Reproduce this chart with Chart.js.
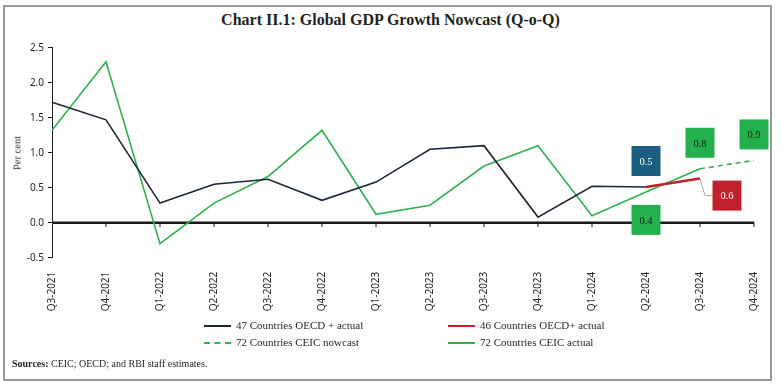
<!DOCTYPE html>
<html>
<head>
<meta charset="utf-8">
<script src="https://cdn.jsdelivr.net/npm/chart.js@4.4.1/dist/chart.umd.min.js"></script>
<style>
body { margin: 0; width: 781px; height: 384px; background: #fff; overflow: hidden; font-family: "Liberation Serif", serif; color: #231f20; }
#frame { position: absolute; left: 3px; top: 5px; width: 765px; height: 372px; border: 2px solid #9a9a9a; }
#wrap { position: absolute; left: 0; top: 0; width: 781px; height: 384px; }
#title { position: absolute; left: 0; top: 11px; width: 781px; text-align: center; font-weight: bold; font-size: 16px; }
#ytitle { position: absolute; left: 17px; top: 153px; font-size: 10.5px; color: #333; transform: translate(-50%, -50%) rotate(-90deg); white-space: nowrap; }
#legend .item { position: absolute; font-size: 11px; white-space: nowrap; line-height: 14px; }
#legend .swatch { display: inline-block; width: 27px; height: 0; vertical-align: middle; margin-right: 5px; border-top-width: 2px; }
#source { position: absolute; left: 12px; top: 358px; font-size: 10px; }
</style>
</head>
<body>
<div id="frame"></div>
<div id="title">Chart II.1: Global GDP Growth Nowcast (Q-o-Q)</div>
<div id="wrap"><canvas id="chartNowcast" width="781" height="384"></canvas></div>
<div id="ytitle">Per cent</div>
<div id="legend"></div>
<div id="source"><b>Sources:</b> CEIC; OECD; and RBI staff estimates.</div>
<script>
var quarters = ["Q3-2021", "Q4-2021", "Q1-2022", "Q2-2022", "Q3-2022", "Q4-2022", "Q1-2023",
	"Q2-2023", "Q3-2023", "Q4-2023", "Q1-2024", "Q2-2024", "Q3-2024", "Q4-2024"];
var oecd47Actual = [1.72, 1.47, 0.28, 0.55, 0.62, 0.32, 0.58, 1.05, 1.10, 0.08, 0.52, 0.51, null, null];
var oecd46Actual = [null, null, null, null, null, null, null, null, null, null, null, 0.51, 0.63, null];
var ceic72Nowcast = [null, null, null, null, null, null, null, null, null, null, null, null, 0.77, 0.89];
var ceic72Actual = [1.32, 2.30, -0.30, 0.28, 0.66, 1.32, 0.12, 0.25, 0.81, 1.10, 0.10, 0.44, 0.77, null];
var yTicks = [-0.5, 0.0, 0.5, 1.0, 1.5, 2.0, 2.5];

var navy = "#1c2838", red = "#c3202e", green = "#2fb34a";
var boxGreen = "#22b14c", boxBlue = "#1b5e80", boxRed = "#c1202d";

// value boxes: dataset index, point index, offset of box centre from the point
var boxes = [
	{ ds: 0, i: 11, dx: 0,  dy: -26, bg: boxBlue,  fg: "#fff" },
	{ ds: 3, i: 11, dx: 0,  dy: 28,  bg: boxGreen, fg: "#1a1a1a" },
	{ ds: 2, i: 12, dx: 0,  dy: -26, bg: boxGreen, fg: "#1a1a1a" },
	{ ds: 2, i: 13, dx: 0,  dy: -26, bg: boxGreen, fg: "#1a1a1a" },
	{ ds: 1, i: 12, dx: 27, dy: 17,  bg: boxRed,   fg: "#fff", leader: true }
];

var zeroLine = {
	id: "zeroLine",
	beforeDatasetsDraw: function(chart) {
		var ctx = chart.ctx, x = chart.scales.x, y = chart.scales.y;
		var y0 = y.getPixelForValue(0);
		ctx.save();
		ctx.strokeStyle = "#1a1a1a";
		ctx.lineWidth = 2.5;
		ctx.beginPath();
		ctx.moveTo(chart.chartArea.left, y0);
		ctx.lineTo(chart.chartArea.right, y0);
		ctx.stroke();
		ctx.lineWidth = 1;
		for (var k = 1; k < quarters.length; k++) {
			var px = x.getPixelForValue(k);
			ctx.beginPath();
			ctx.moveTo(px, y0);
			ctx.lineTo(px, y0 + 4.5);
			ctx.stroke();
		}
		ctx.restore();
	}
};

var valueBoxes = {
	id: "valueBoxes",
	afterDatasetsDraw: function(chart) {
		var ctx = chart.ctx;
		ctx.save();
		boxes.forEach(function(b) {
			var pt = chart.getDatasetMeta(b.ds).data[b.i];
			var v = chart.data.datasets[b.ds].data[b.i];
			var cx = pt.x + b.dx, cy = pt.y + b.dy;
			if (b.leader) {
				ctx.strokeStyle = "#a6a6a6";
				ctx.lineWidth = 1;
				ctx.beginPath();
				ctx.moveTo(pt.x, pt.y);
				ctx.lineTo(pt.x + 5, cy);
				ctx.lineTo(cx - 14, cy);
				ctx.stroke();
			}
			ctx.fillStyle = b.bg;
			ctx.fillRect(cx - 14.5, cy - 15, 29, 30);
			ctx.fillStyle = b.fg;
			ctx.font = "10.5px 'Liberation Serif'";
			ctx.textAlign = "center";
			ctx.textBaseline = "middle";
			ctx.fillText(v.toFixed(1), cx, cy + 1);
		});
		ctx.restore();
	}
};

var chart = new Chart(document.getElementById("chartNowcast"), {
	type: "line",
	data: {
		labels: quarters,
		datasets: [
			{ label: "47 Countries OECD + actual", data: oecd47Actual, borderColor: navy, borderWidth: 1.6 },
			{ label: "46 Countries OECD+ actual", data: oecd46Actual, borderColor: red, borderWidth: 2.5 },
			{ label: "72 Countries CEIC nowcast", data: ceic72Nowcast, borderColor: green, borderWidth: 1.6, borderDash: [5, 4] },
			{ label: "72 Countries CEIC actual", data: ceic72Actual, borderColor: green, borderWidth: 1.6 }
		]
	},
	plugins: [zeroLine, valueBoxes],
	options: {
		responsive: false,
		animation: false,
		spanGaps: false,
		elements: { point: { radius: 0 }, line: { tension: 0 } },
		layout: { padding: { left: 0, right: 27, top: 47.7, bottom: 61.3 } },
		plugins: { legend: { display: false }, tooltip: { enabled: false }, title: { display: false } },
		scales: {
			x: {
				offset: false,
				grid: { display: false },
				border: { display: false },
				ticks: { minRotation: 90, maxRotation: 90, autoSkip: false, padding: 6, color: "#231f20",
					font: { family: "'Noto Sans'", size: 10 } },
				afterFit: function(s) { s.height = 65; }
			},
			y: {
				min: -0.5, max: 2.5,
				afterBuildTicks: function(s) { s.ticks = yTicks.map(function(v) { return { value: v }; }); },
				grid: { drawOnChartArea: false, drawTicks: true, tickLength: 4, color: "#1a1a1a" },
				border: { display: true, color: "#1a1a1a", width: 1 },
				ticks: { padding: 4, color: "#231f20", font: { family: "'Noto Sans'", size: 10 },
					callback: function(v) { return v.toFixed(1); } },
				afterFit: function(s) { s.width = 52; }
			}
		}
	}
});

// legend from the datasets
var legendPos = [[204, 325], [448, 325], [204, 342], [448, 342]];
var legend = document.getElementById("legend");
chart.data.datasets.forEach(function(ds, k) {
	var item = document.createElement("div");
	item.className = "item";
	item.style.left = legendPos[k][0] + "px";
	item.style.top = (legendPos[k][1] - 7) + "px";
	var sw = document.createElement("span");
	sw.className = "swatch";
	sw.style.borderTopStyle = ds.borderDash ? "dashed" : "solid";
	sw.style.borderTopColor = ds.borderColor;
	item.appendChild(sw);
	item.appendChild(document.createTextNode(ds.label));
	legend.appendChild(item);
});
</script>
</body>
</html>
